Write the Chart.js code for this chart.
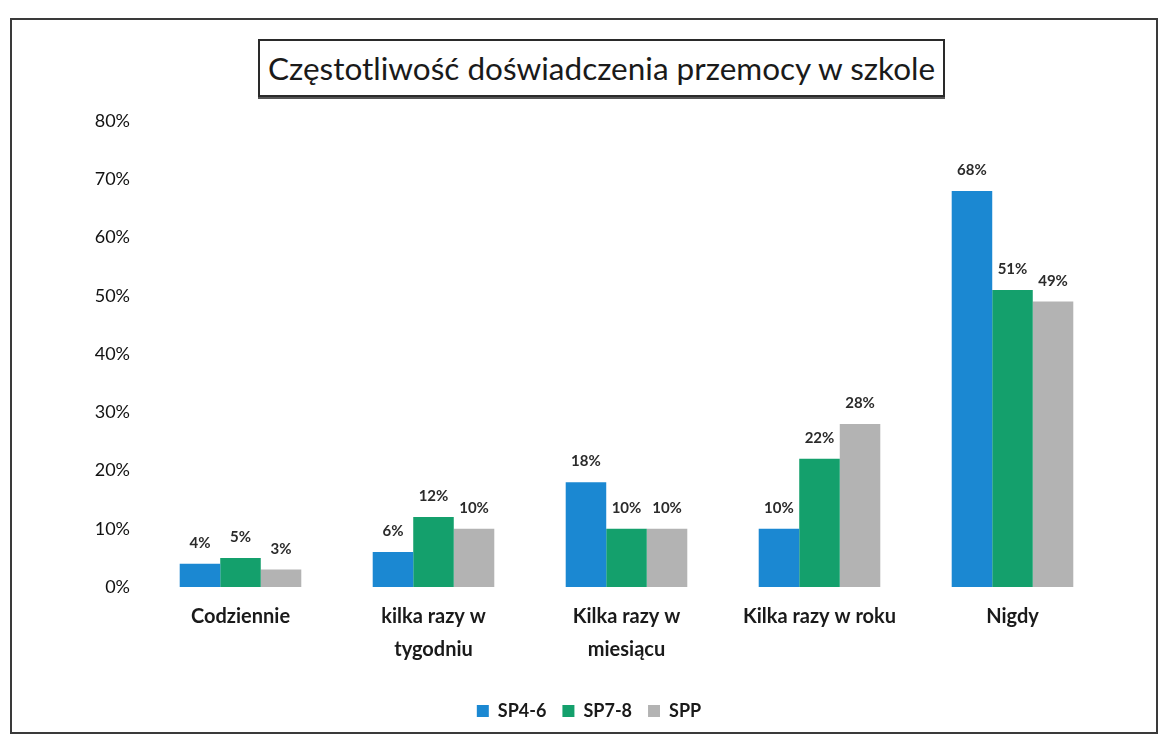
<!DOCTYPE html>
<html><head><meta charset="utf-8">
<script src="https://cdn.jsdelivr.net/npm/chart.js@4.4.1/dist/chart.umd.min.js"></script>
<style>
html,body{margin:0;padding:0;background:#fff;}
#wrap{position:relative;width:1163px;height:750px;overflow:hidden;}
#frame{position:absolute;left:10px;top:18px;width:1148px;height:716px;border:2px solid #3a3a3a;box-sizing:border-box;}
#title{position:absolute;left:258px;top:39px;width:687px;height:58px;border:2px solid #2a2a2a;box-sizing:border-box;
 font-family:Lato,'Open Sans',sans-serif;font-size:31.5px;color:#1a1a1a;display:flex;align-items:center;justify-content:center;white-space:nowrap;box-shadow:0 2px 0 #555;}
canvas{position:absolute;left:0;top:0;}
</style></head>
<body><div id="wrap">
<div id="frame"></div>
<div id="title">Częstotliwość doświadczenia przemocy w szkole</div>
<canvas id="c" width="1163" height="750"></canvas>
</div>
<script>
const categories = ['Codziennie', ['kilka razy w','tygodniu'], ['Kilka razy w','miesiącu'], 'Kilka razy w roku', 'Nigdy'];
const seriesNames = ['SP4-6', 'SP7-8', 'SPP'];
const sp46 = [4, 6, 18, 10, 68];
const sp78 = [5, 12, 10, 22, 51];
const spp  = [3, 10, 10, 28, 49];
const yTicks = [0, 10, 20, 30, 40, 50, 60, 70, 80];
const colors = ['#1b88d2', '#14a06c', '#b3b3b3'];

const FONT = "Lato, 'Open Sans', sans-serif";

const valueLabels = {
  id: 'valueLabels',
  afterDatasetsDraw(chart) {
    const ctx = chart.ctx;
    ctx.save();
    ctx.font = "bold 15px " + FONT;
    ctx.fillStyle = '#2b2b2b';
    ctx.textAlign = 'center';
    ctx.textBaseline = 'bottom';
    chart.data.datasets.forEach((ds, i) => {
      chart.getDatasetMeta(i).data.forEach((bar, j) => {
        ctx.fillText(ds.data[j] + '%', bar.x, bar.y - 13);
      });
    });
    ctx.restore();
  }
};

new Chart(document.getElementById('c'), {
  type: 'bar',
  data: {
    labels: categories,
    datasets: [
      { label: seriesNames[0], data: sp46, backgroundColor: colors[0] },
      { label: seriesNames[1], data: sp78, backgroundColor: colors[1] },
      { label: seriesNames[2], data: spp,  backgroundColor: colors[2] }
    ]
  },
  options: {
    responsive: false,
    animation: false,
    layout: { padding: { top: 121, right: 54, bottom: 20, left: 69 } },
    datasets: { bar: { categoryPercentage: 0.63, barPercentage: 1.0 } },
    plugins: {
      legend: {
        position: 'bottom',
        labels: { font: { family: FONT, size: 18, weight: 'bold' }, color: '#1a1a1a', boxWidth: 12, boxHeight: 12, padding: 16 }
      },
      tooltip: { enabled: false }
    },
    scales: {
      x: {
        grid: { display: false }, border: { display: false },
        ticks: { font: { family: FONT, size: 20, weight: 'bold', lineHeight: 1.65 }, color: '#1a1a1a', padding: 5, maxRotation: 0, autoSkip: false },
        afterFit(s) { s.height = 99; }
      },
      y: {
        min: 0, max: 80,
        grid: { display: false }, border: { display: false },
        afterBuildTicks(s) { s.ticks = yTicks.map(v => ({ value: v })); },
        ticks: { font: { family: FONT, size: 18 }, color: '#111', padding: 6, callback: v => v + '%' },
        afterFit(s) { s.width = 75; }
      }
    }
  },
  plugins: [valueLabels]
});
</script>
</body></html>
